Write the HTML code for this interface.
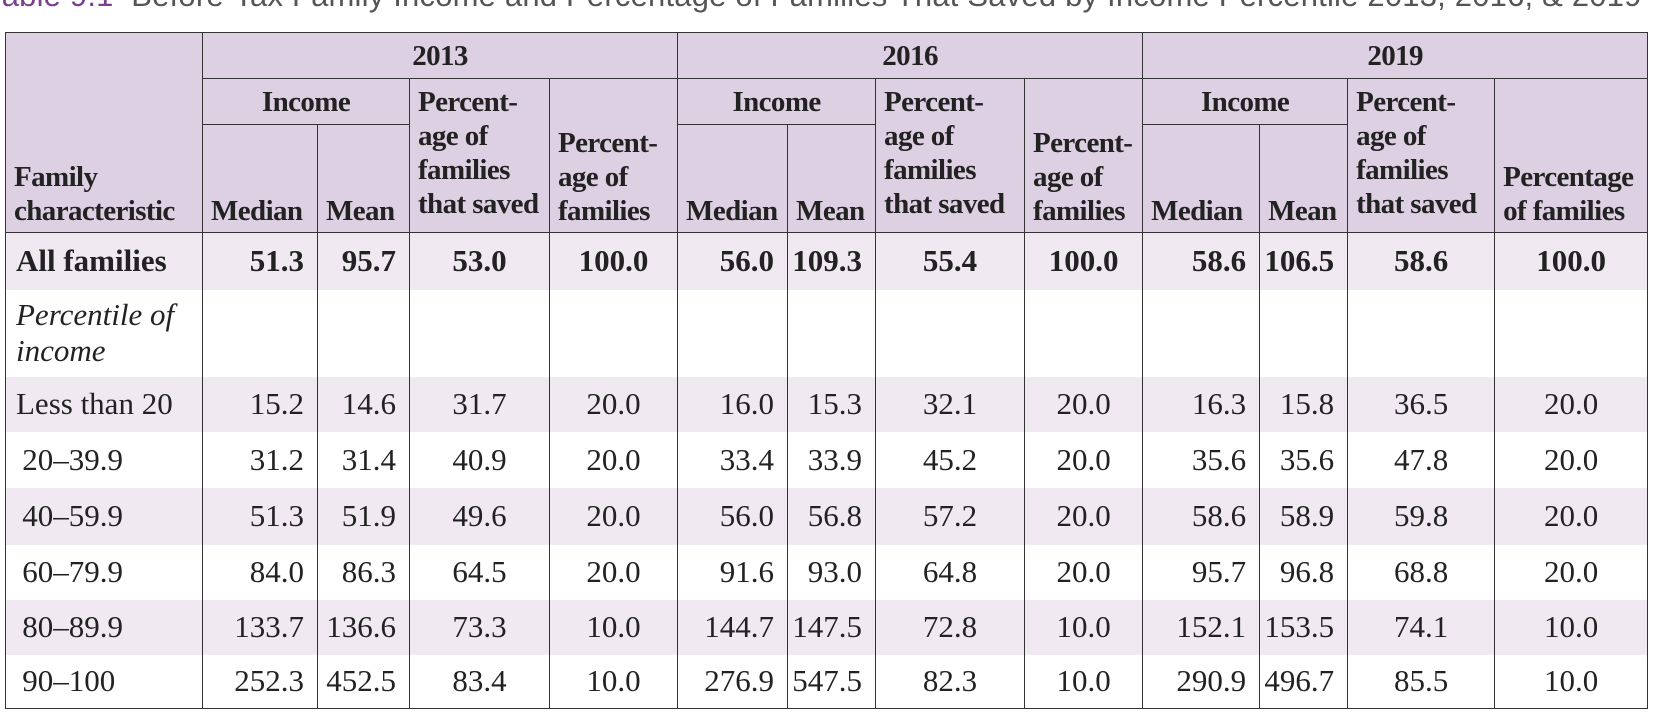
<!DOCTYPE html>
<html><head><meta charset="utf-8">
<style>
html,body{margin:0;padding:0;background:#fff;width:1668px;height:720px;overflow:hidden;position:relative}
#title{position:absolute;left:-14px;top:-22px;font-family:"Liberation Sans",sans-serif;font-size:31px;color:#555;white-space:nowrap;letter-spacing:0.2px}
#title b{color:#7b3f8e;font-weight:normal}
table{position:absolute;left:5px;top:32px;border-collapse:collapse;table-layout:fixed;width:1642px;font-family:"Liberation Serif",serif;color:#222}
td,th{border-left:1.5px solid #333;border-right:1.5px solid #333;padding:0;overflow:hidden}
thead th{background:#ddd0e3;font-weight:bold;font-size:29px;line-height:34px;letter-spacing:-0.6px;text-align:left;padding-left:8px;vertical-align:bottom;padding-bottom:4px;border:1.5px solid #333}
thead th.c{text-align:center;vertical-align:middle;padding:0}
thead th.t{vertical-align:top;padding-top:6px}
tbody td{font-size:31px;white-space:nowrap}
tbody tr.s td{background:#f0e9f2}
td.lab{padding-left:10px;text-align:left}
td.r{text-align:right;padding-right:13px}
td.m{text-align:center}
tr.all td{font-weight:bold}
tbody tr:last-child td{border-bottom:1.5px solid #333}
</style></head><body>
<div id="title"><b>Table 9.1</b>&nbsp; Before-Tax Family Income and Percentage of Families That Saved by Income Percentile 2013, 2016, &amp; 2019</div>
<table>
<colgroup><col style="width:197px"><col style="width:115px"><col style="width:92px"><col style="width:140px"><col style="width:128px"><col style="width:110px"><col style="width:88px"><col style="width:149px"><col style="width:118px"><col style="width:117px"><col style="width:88px"><col style="width:147px"><col style="width:153px"></colgroup>
<thead>
<tr style="height:46px">
<th rowspan="3">Family<br>characteristic</th>
<th colspan="4" class="c">2013</th>
<th colspan="4" class="c">2016</th>
<th colspan="4" class="c">2019</th>
</tr>
<tr style="height:46px">
<th colspan="2" class="c">Income</th>
<th rowspan="2" class="t">Percent-<br>age of<br>families<br>that saved</th>
<th rowspan="2">Percent-<br>age of<br>families</th>
<th colspan="2" class="c">Income</th>
<th rowspan="2" class="t">Percent-<br>age of<br>families<br>that saved</th>
<th rowspan="2">Percent-<br>age of<br>families</th>
<th colspan="2" class="c">Income</th>
<th rowspan="2" class="t">Percent-<br>age of<br>families<br>that saved</th>
<th rowspan="2">Percentage<br>of families</th>
</tr>
<tr style="height:108px">
<th>Median</th>
<th>Mean</th>
<th>Median</th>
<th>Mean</th>
<th>Median</th>
<th>Mean</th>
</tr>
</thead>
<tbody id="tb"></tbody>
</table>
<script>
const rowLabels = ["All families","Percentile of income","Less than 20","\u200920\u201339.9","\u200940\u201359.9","\u200960\u201379.9","\u200980\u201389.9","\u200990\u2013100"];
const median2013 = ["51.3","","15.2","31.2","51.3","84.0","133.7","252.3"];
const mean2013 = ["95.7","","14.6","31.4","51.9","86.3","136.6","452.5"];
const saved2013 = ["53.0","","31.7","40.9","49.6","64.5","73.3","83.4"];
const share2013 = ["100.0","","20.0","20.0","20.0","20.0","10.0","10.0"];
const median2016 = ["56.0","","16.0","33.4","56.0","91.6","144.7","276.9"];
const mean2016 = ["109.3","","15.3","33.9","56.8","93.0","147.5","547.5"];
const saved2016 = ["55.4","","32.1","45.2","57.2","64.8","72.8","82.3"];
const share2016 = ["100.0","","20.0","20.0","20.0","20.0","10.0","10.0"];
const median2019 = ["58.6","","16.3","35.6","58.6","95.7","152.1","290.9"];
const mean2019 = ["106.5","","15.8","35.6","58.9","96.8","153.5","496.7"];
const saved2019 = ["58.6","","36.5","47.8","59.8","68.8","74.1","85.5"];
const share2019 = ["100.0","","20.0","20.0","20.0","20.0","10.0","10.0"];
const rowHeights = [57,87,55,56,57,55,55,54];
const tb = document.getElementById('tb');
const cols = [[median2013,'r','median-2013'],[mean2013,'r','mean-2013'],[saved2013,'m','pct-saved-2013'],[share2013,'m','pct-families-2013'],
[median2016,'r','median-2016'],[mean2016,'r','mean-2016'],[saved2016,'m','pct-saved-2016'],[share2016,'m','pct-families-2016'],
[median2019,'r','median-2019'],[mean2019,'r','mean-2019'],[saved2019,'m','pct-saved-2019'],[share2019,'m','pct-families-2019']];
rowLabels.forEach((lab,i)=>{
  const tr=document.createElement('tr');
  
  
  tr.style.height=rowHeights[i]+'px';
  if(i===0) tr.className='all s';
  else if(i===2||i===4||i===6) tr.className='s';
  const td=document.createElement('td');
  
  
  td.className='lab';
  if(i===1){td.innerHTML='<i>Percentile of<br>income</i>';td.style.lineHeight='36px';td.style.whiteSpace='normal';}
  else td.textContent=lab;
  tr.appendChild(td);
  cols.forEach(c=>{
    const d=document.createElement('td');
    
    
    d.className=c[1];
    d.textContent=c[0][i];
    tr.appendChild(d);
  });
  tb.appendChild(tr);
});
</script>
</body></html>
